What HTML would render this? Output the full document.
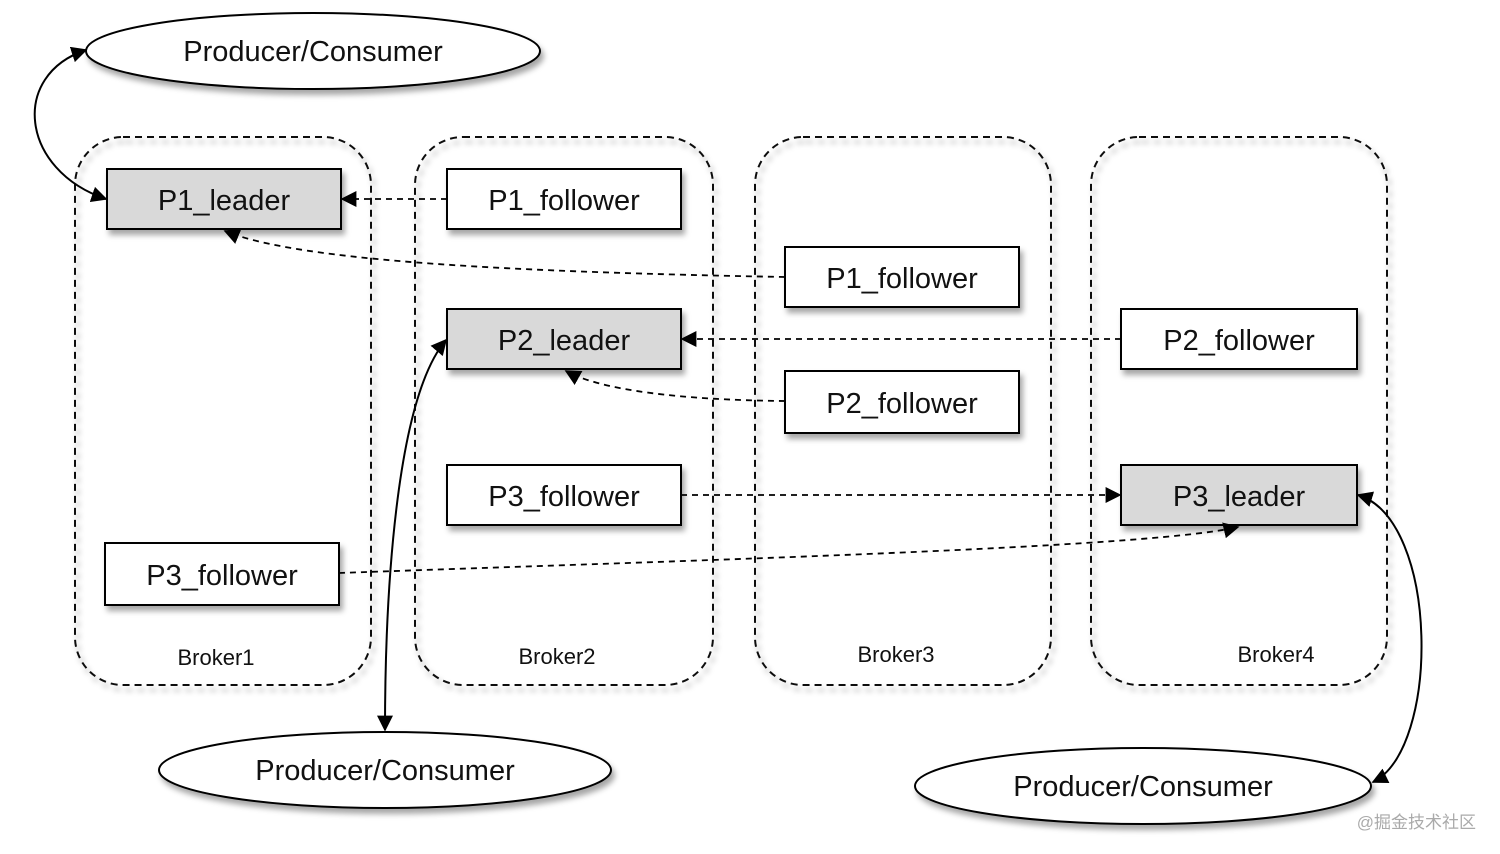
<!DOCTYPE html>
<html><head><meta charset="utf-8"><style>
html,body{margin:0;padding:0;background:#fff;}
svg{display:block;}
text{font-family:"Liberation Sans","Noto Sans CJK SC",sans-serif;fill:#111;}
</style></head><body>
<svg width="1500" height="854" viewBox="0 0 1500 854" xmlns="http://www.w3.org/2000/svg">
<defs>
<filter id="sh" x="-10%" y="-20%" width="130%" height="150%">
<feDropShadow dx="3" dy="5" stdDeviation="3" flood-color="#000" flood-opacity="0.35"/>
</filter>
<marker id="ah" viewBox="0 0 10 10" refX="9" refY="5" markerWidth="16" markerHeight="16" markerUnits="userSpaceOnUse" orient="auto-start-reverse">
<path d="M0,0 L10,5 L0,10 z" fill="#000"/>
</marker>
</defs>

<g fill="none" stroke="#111" stroke-width="2" stroke-dasharray="7,5" filter="url(#sh)">
<rect x="75" y="137" width="296" height="548" rx="48"/>
<rect x="415" y="137" width="298" height="548" rx="48"/>
<rect x="755" y="137" width="296" height="548" rx="48"/>
<rect x="1091" y="137" width="296" height="548" rx="48"/>
</g>
<g font-size="22" text-anchor="middle">
<text x="216" y="665">Broker1</text>
<text x="557" y="664">Broker2</text>
<text x="896" y="662">Broker3</text>
<text x="1276" y="662">Broker4</text>
</g>

<g fill="#fff" stroke="#000" stroke-width="2" filter="url(#sh)">
<ellipse cx="313" cy="51" rx="227" ry="38"/>
<ellipse cx="385" cy="770" rx="226" ry="38"/>
<ellipse cx="1143" cy="786" rx="228" ry="38"/>
</g>
<g font-size="29" text-anchor="middle">
<text x="313" y="61">Producer/Consumer</text>
<text x="385" y="780">Producer/Consumer</text>
<text x="1143" y="796">Producer/Consumer</text>
</g>

<g stroke="#000" stroke-width="2" filter="url(#sh)">
<rect x="107" y="169" width="234" height="60" fill="#d9d9d9"/>
<rect x="447" y="169" width="234" height="60" fill="#fff"/>
<rect x="785" y="247" width="234" height="60" fill="#fff"/>
<rect x="447" y="309" width="234" height="60" fill="#d9d9d9"/>
<rect x="1121" y="309" width="236" height="60" fill="#fff"/>
<rect x="785" y="371" width="234" height="62" fill="#fff"/>
<rect x="447" y="465" width="234" height="60" fill="#fff"/>
<rect x="1121" y="465" width="236" height="60" fill="#d9d9d9"/>
<rect x="105" y="543" width="234" height="62" fill="#fff"/>
</g>
<g font-size="29" text-anchor="middle">
<text x="224" y="210">P1_leader</text>
<text x="564" y="210">P1_follower</text>
<text x="902" y="288">P1_follower</text>
<text x="564" y="350">P2_leader</text>
<text x="1239" y="350">P2_follower</text>
<text x="902" y="413">P2_follower</text>
<text x="564" y="506">P3_follower</text>
<text x="1239" y="506">P3_leader</text>
<text x="222" y="585">P3_follower</text>
</g>

<g fill="none" stroke="#000" stroke-width="1.8" stroke-dasharray="6,5">
<path d="M447,199 L342,199" marker-end="url(#ah)"/>
<path d="M785,277 C520,272 300,262 225,231" marker-end="url(#ah)"/>
<path d="M1121,339 L682,339" marker-end="url(#ah)"/>
<path d="M785,401 C680,400 600,390 566,371" marker-end="url(#ah)"/>
<path d="M681,495 L1120,495" marker-end="url(#ah)"/>
<path d="M339,573 C700,560 1150,548 1238,527" marker-end="url(#ah)"/>
</g>

<g fill="none" stroke="#000" stroke-width="2">
<path d="M106,199 C20,170 10,75 86,50" marker-start="url(#ah)" marker-end="url(#ah)"/>
<path d="M446,340 C395,400 385,600 385,730" marker-start="url(#ah)" marker-end="url(#ah)"/>
<path d="M1358,495 C1440,520 1440,750 1373,782" marker-start="url(#ah)" marker-end="url(#ah)"/>
</g>

<text x="1476" y="828" font-size="17" text-anchor="end" style="fill:#aaa">@掘金技术社区</text>
</svg>
</body></html>
